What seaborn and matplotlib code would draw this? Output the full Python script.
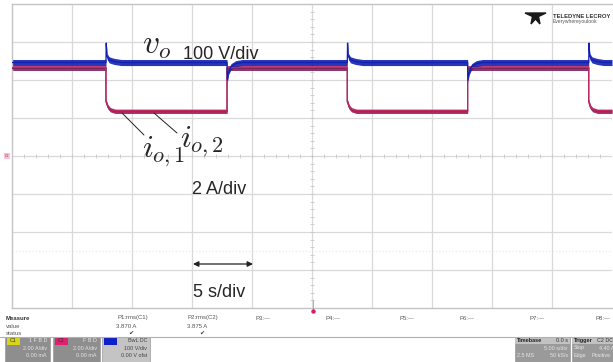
import numpy as np
import pandas as pd
import matplotlib
matplotlib.use("Agg")
import matplotlib.pyplot as plt
from matplotlib.patches import Rectangle, Polygon
import seaborn as sns

sns.set_theme(style="white")
plt.rcParams["font.family"] = ["Liberation Sans", "DejaVu Sans"]
plt.rcParams["mathtext.fontset"] = "cm"

# ---- scope traces (time in s, 5 s/div) ----
vo_time = [-25.0, -17.17, -17.15, -17.08, -16.9, -16.5, -15.9,
           -7.08, -7.06, -6.95, -6.75, -6.35, -5.8,
           2.94, 2.96, 3.03, 3.21, 3.61, 4.2,
           12.97, 12.99, 13.1, 13.3, 13.7, 14.2,
           23.06, 23.08, 23.15, 23.33, 23.73, 24.3, 25.0]
vo_volt = [246, 246, 297, 262, 253, 249, 246,
           246, 200, 222, 235, 243, 246,
           246, 297, 262, 253, 249, 246,
           246, 200, 222, 235, 243, 246,
           246, 297, 262, 253, 249, 246, 246]

io_time = [-25.0, -17.17, -17.17, -17.0, -16.8, -16.4,
           -7.08, -7.08, 2.94, 2.94, 3.1, 3.3, 3.7,
           12.97, 12.97, 23.06, 23.06, 23.2, 23.4, 23.8, 25.0]
io1_amp = [4.60, 4.60, 2.86, 2.56, 2.42, 2.34,
           2.34, 4.60, 4.60, 2.86, 2.56, 2.42, 2.34,
           2.34, 4.60, 4.60, 2.86, 2.56, 2.42, 2.34, 2.34]
io2_amp = [4.66, 4.66, 2.90, 2.60, 2.45, 2.37,
           2.37, 4.66, 4.66, 2.90, 2.60, 2.45, 2.37,
           2.37, 4.66, 4.66, 2.90, 2.60, 2.45, 2.37, 2.37]

volt_per_div = 100.0
amp_per_div = 2.0

# ---- measurement readout ----
measure_labels = ["P1:rms(C1)", "P2:rms(C2)", "P3:---", "P4:---",
                  "P5:---", "P6:---", "P7:---", "P8:---"]
measure_values = ["3.870 A", "3.875 A"]

W, H = 613, 362
fig = plt.figure(figsize=(W / 100, H / 100), dpi=100)
fig.patch.set_facecolor("white")


def fx(x):
    return x / W


def fy(y):
    return 1 - y / H


ax = fig.add_axes([fx(12), fy(308), 600 / W, 304 / H])
ax.set_xlim(-25, 25)
ax.set_ylim(-4, 4)
ax.set_facecolor("white")

grid_c = "#d9d9d9"
for xv in np.arange(-20, 25, 5):
    ax.axvline(xv, color=grid_c, lw=0.9, zorder=0)
for yv in np.arange(-3, 4, 1):
    ax.axhline(yv, color=grid_c, lw=0.9, zorder=0)
ax.axhline(-2.5, color="#e6e6e6", lw=0.8, ls=(0, (1, 2)), zorder=0)
# center-line minor ticks
ax.plot(np.arange(-25, 25, 1.0), np.zeros(50), ls="none", marker="|",
        ms=3, mew=0.6, color="#c8c8c8", zorder=0)
ax.plot(np.zeros(40), np.arange(-4, 4, 0.2), ls="none", marker="_",
        ms=3, mew=0.6, color="#c8c8c8", zorder=0)

for s in ["left", "top", "bottom"]:
    ax.spines[s].set_color("#c4c4c4")
    ax.spines[s].set_linewidth(1.0)
ax.spines["right"].set_visible(False)
ax.set_xticks([])
ax.set_yticks([])

df = pd.concat([
    pd.DataFrame({"time": io_time, "div": np.array(io1_amp) / amp_per_div, "trace": "io1"}),
    pd.DataFrame({"time": io_time, "div": np.array(io2_amp) / amp_per_div, "trace": "io2"}),
    pd.DataFrame({"time": vo_time, "div": np.array(vo_volt) / volt_per_div, "trace": "vo"}),
])
palette = {"io1": "#7c2466", "io2": "#c0285e", "vo": "#1020b0"}
band = {"io1": 0.05, "io2": 0.05, "vo": 0.08}
for name in ["io1", "io2", "vo"]:
    sub = df[df.trace == name]
    ax.fill_between(sub["time"], sub["div"] - band[name], sub["div"] + band[name],
                    color=palette[name], lw=0, alpha=0.9, zorder=2)
    sns.lineplot(data=sub, x="time", y="div", color=palette[name], lw=0.9,
                 estimator=None, sort=False, ax=ax, legend=False, zorder=3)
ax.set_xlabel("")
ax.set_ylabel("")


def t_of(x):
    return (x - 312) / 12.0


def d_of(y):
    return (156 - y) / 38.0


ax.text(t_of(142), d_of(53), r"$v_o$", fontsize=24, ha="left", va="baseline", zorder=5)
ax.text(t_of(183), d_of(59), "100 V/div", fontsize=13, ha="left", va="baseline", zorder=5)
ax.text(t_of(180), d_of(147), r"$i_{o,2}$", fontsize=23, ha="left", va="baseline", zorder=5)
ax.text(t_of(142), d_of(157), r"$i_{o,1}$", fontsize=23, ha="left", va="baseline", zorder=5)
ax.plot([t_of(122), t_of(144)], [d_of(113), d_of(135)], color="#222222", lw=0.7, zorder=4)
ax.plot([t_of(154), t_of(177)], [d_of(113), d_of(133)], color="#222222", lw=0.7, zorder=4)
ax.text(t_of(192), d_of(194), "2 A/div", fontsize=13, ha="left", va="baseline", zorder=5)
ax.annotate("", xy=(t_of(253), d_of(264)), xytext=(t_of(193), d_of(264)),
            arrowprops=dict(arrowstyle="<|-|>", color="#222222", lw=0.9,
                            mutation_scale=8, shrinkA=0, shrinkB=0))
ax.text(t_of(193), d_of(297), "5 s/div", fontsize=13, ha="left", va="baseline", zorder=5)

# ---- logo ----
logo = Polygon([[fx(525), fy(13)], [fx(546), fy(13)], [fx(538.5), fy(16.5)],
                [fx(540), fy(24)], [fx(535.5), fy(19)], [fx(531), fy(24)],
                [fx(532.5), fy(16.5)]], closed=True, transform=fig.transFigure,
               color="#1a1a1a", zorder=10)
fig.patches.append(logo)
fig.text(fx(553), fy(16.5), "TELEDYNE LECROY", fontsize=4.2, fontweight="bold",
         color="#333333", va="center", ha="left")
fig.text(fx(553), fy(21.5), "Everywhereyoulook", fontsize=3.6,
         color="#555555", va="center", ha="left")

# C2 offset marker at the left edge
fig.patches.append(Rectangle((fx(4), fy(159)), 6 / W, 6 / H, transform=fig.transFigure,
                             facecolor="#f4c6d8", edgecolor="none"))
fig.text(fx(7), fy(156), "C2", fontsize=2.5, color="#c0285e", ha="center", va="center")

# trigger marker below the grid
fig.add_artist(plt.Line2D([fx(313), fx(313)], [fy(300), fy(310)],
                          transform=fig.transFigure, color="#d08aa8", lw=0.6))
fig.add_artist(plt.Line2D([fx(313)], [fy(311)], transform=fig.transFigure,
                          marker="o", ms=2.2, color="#d0206a", lw=0))

# ---- measurement panel ----
txt = "#555555"
fs = 4.3
fig.text(fx(6), fy(318), "Measure", fontsize=fs, color="#333333", fontweight="bold", va="center")
fig.text(fx(6), fy(326), "value", fontsize=fs, color=txt, va="center")
fig.text(fx(6), fy(333.5), "status", fontsize=fs, color=txt, va="center")
px_cols = [118, 188, 255, 325, 400, 460, 530, 595]
for lab, xp in zip(measure_labels, px_cols):
    fig.text(fx(xp), fy(318), lab, fontsize=fs, color=txt, va="center", ha="left")
for val, xp in zip(measure_values, [136, 207]):
    fig.text(fx(xp), fy(326), val, fontsize=fs, color=txt, va="center", ha="right")
    fig.text(fx(xp - 5), fy(333.5), "\u2714", fontsize=4.5, color="#333333",
             va="center", ha="center", family="DejaVu Sans")

fig.add_artist(plt.Line2D([0, 1], [fy(336.5), fy(336.5)], transform=fig.transFigure,
                          color="#b0b0b0", lw=0.8))


def box(x0, x1, face):
    fig.patches.append(Rectangle((fx(x0), fy(362)), (x1 - x0) / W, 25.5 / H,
                                 transform=fig.transFigure, facecolor=face,
                                 edgecolor="#9a9a9a", lw=0.5))


channel_boxes = [
    (5, 50, "#8e8e8e", "#d8d41c", "C1", ["1 F B D", "2.00 A/div", "0.00 mA"], "#e6e6e6"),
    (53, 100, "#8e8e8e", "#e0206e", "C2", ["F B D", "2.00 A/div", "0.00 mA"], "#e6e6e6"),
    (102, 150, "#c4c4c4", "#1020c8", "", ["BwL DC", "100 V/div", "0.00 V ofst"], "#444444"),
]
for x0, x1, face, tagc, tag, lines, tc in channel_boxes:
    box(x0, x1, face)
    fig.patches.append(Rectangle((fx(x0 + 2), fy(344.5)), 13 / W, 6.5 / H,
                                 transform=fig.transFigure, facecolor=tagc,
                                 edgecolor="none"))
    if tag:
        fig.text(fx(x0 + 8.5), fy(341), tag, fontsize=3.8, color="#333333",
                 ha="center", va="center")
    for i, ln in enumerate(lines):
        fig.text(fx(x1 - 3), fy(341 + i * 7.3), ln, fontsize=3.9, color=tc,
                 ha="right", va="center")

# timebase / trigger
box(515, 570, "#9a9a9a")
box(572, 614, "#9a9a9a")
for x0, x1 in [(515, 570), (572, 614)]:
    fig.patches.append(Rectangle((fx(x0), fy(344)), (x1 - x0) / W, 7.5 / H,
                                 transform=fig.transFigure, facecolor="#c2c2c2",
                                 edgecolor="none"))
fig.text(fx(517), fy(340.5), "Timebase", fontsize=4.0, color="#222222", fontweight="bold", va="center")
fig.text(fx(568), fy(340.5), "0.0 s", fontsize=3.9, color="#333333", va="center", ha="right")
fig.text(fx(568), fy(348), "5.00 s/div", fontsize=3.9, color="#e6e6e6", va="center", ha="right")
fig.text(fx(517), fy(355.5), "2.5 MS", fontsize=3.9, color="#e6e6e6", va="center")
fig.text(fx(568), fy(355.5), "50 kS/s", fontsize=3.9, color="#e6e6e6", va="center", ha="right")
fig.text(fx(574), fy(340.5), "Trigger", fontsize=4.0, color="#222222", fontweight="bold", va="center")
fig.text(fx(597), fy(340.5), "C2 DC", fontsize=3.9, color="#333333", va="center")
fig.text(fx(574), fy(348), "Stop", fontsize=3.9, color="#e6e6e6", va="center")
fig.text(fx(599), fy(348), "4.40 A", fontsize=3.9, color="#e6e6e6", va="center")
fig.text(fx(574), fy(355.5), "Edge", fontsize=3.9, color="#e6e6e6", va="center")
fig.text(fx(592), fy(355.5), "Positive", fontsize=3.9, color="#e6e6e6", va="center")

fig.savefig("out.png", dpi=100, facecolor="white")
